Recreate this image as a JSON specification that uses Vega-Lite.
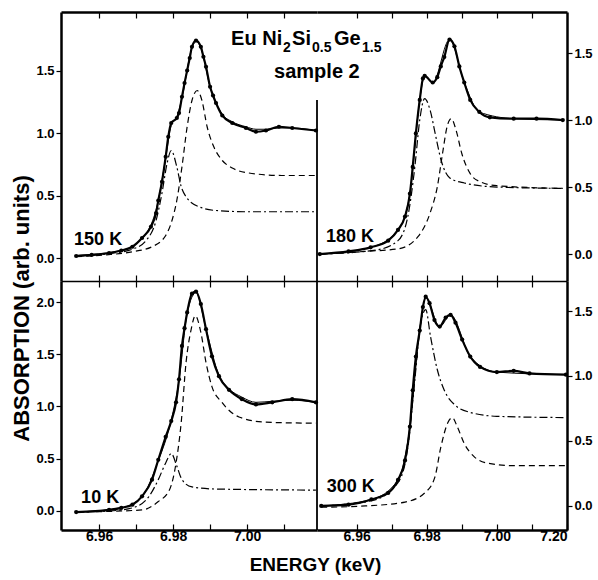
{
"$schema":"https://vega.github.io/schema/vega-lite/v6.json",
"background":"white",
"padding":{"left":10,"top":11,"right":5,"bottom":5},
"spacing":0,
"columns":2,
"bounds":"flush",
"config":{"view":{"stroke":null},"axis":{"labelFont":"Liberation Sans","labelFontWeight":"bold","labelColor":"black","labelFontSize":13,"titleFont":"Liberation Sans","titleFontWeight":"bold","titleColor":"black","domainColor":"black","tickColor":"black","grid":false,"tickWidth":1.2}},
"datasets":{
"c":[
{"p":"TL","s":"d","e":6.9538,"a":0.016},{"p":"TL","s":"d","e":6.958,"a":0.025},{"p":"TL","s":"d","e":6.9627,"a":0.04},{"p":"TL","s":"d","e":6.966,"a":0.06},{"p":"TL","s":"d","e":6.969,"a":0.09},{"p":"TL","s":"d","e":6.9716,"a":0.16},{"p":"TL","s":"d","e":6.974,"a":0.25},{"p":"TL","s":"d","e":6.9754,"a":0.36},{"p":"TL","s":"d","e":6.976,"a":0.46},{"p":"TL","s":"d","e":6.977,"a":0.61},{"p":"TL","s":"d","e":6.978,"a":0.81},{"p":"TL","s":"d","e":6.9787,"a":0.97},{"p":"TL","s":"d","e":6.9795,"a":1.08},{"p":"TL","s":"d","e":6.981,"a":1.12},{"p":"TL","s":"d","e":6.9816,"a":1.16},{"p":"TL","s":"d","e":6.9824,"a":1.29},{"p":"TL","s":"d","e":6.9831,"a":1.4},{"p":"TL","s":"d","e":6.9838,"a":1.5},{"p":"TL","s":"d","e":6.9845,"a":1.6},{"p":"TL","s":"d","e":6.9851,"a":1.69},{"p":"TL","s":"d","e":6.9862,"a":1.74},{"p":"TL","s":"d","e":6.9875,"a":1.69},{"p":"TL","s":"d","e":6.9882,"a":1.61},{"p":"TL","s":"d","e":6.9889,"a":1.53},{"p":"TL","s":"d","e":6.99,"a":1.37},{"p":"TL","s":"d","e":6.9908,"a":1.3},{"p":"TL","s":"d","e":6.9916,"a":1.24},{"p":"TL","s":"d","e":6.9933,"a":1.14},{"p":"TL","s":"d","e":6.996,"a":1.08},{"p":"TL","s":"d","e":6.9997,"a":1.04},{"p":"TL","s":"d","e":7.0024,"a":1.01},{"p":"TL","s":"d","e":7.0051,"a":1.02},{"p":"TL","s":"d","e":7.0086,"a":1.05},{"p":"TL","s":"d","e":7.0122,"a":1.04},{"p":"TL","s":"d","e":7.0186,"a":1.02},
{"p":"TL","s":"f","e":6.9538,"a":0.02},{"p":"TL","s":"f","e":6.966,"a":0.06},{"p":"TL","s":"f","e":6.972,"a":0.17},{"p":"TL","s":"f","e":6.976,"a":0.46},{"p":"TL","s":"f","e":6.978,"a":0.8},{"p":"TL","s":"f","e":6.9795,"a":1.06},{"p":"TL","s":"f","e":6.981,"a":1.13},{"p":"TL","s":"f","e":6.9824,"a":1.28},{"p":"TL","s":"f","e":6.9851,"a":1.68},{"p":"TL","s":"f","e":6.9862,"a":1.73},{"p":"TL","s":"f","e":6.9875,"a":1.68},{"p":"TL","s":"f","e":6.99,"a":1.37},{"p":"TL","s":"f","e":6.9933,"a":1.15},{"p":"TL","s":"f","e":6.996,"a":1.09},{"p":"TL","s":"f","e":6.9997,"a":1.05},{"p":"TL","s":"f","e":7.0024,"a":1.03},{"p":"TL","s":"f","e":7.0051,"a":1.03},{"p":"TL","s":"f","e":7.0086,"a":1.04},{"p":"TL","s":"f","e":7.0122,"a":1.04},{"p":"TL","s":"f","e":7.0186,"a":1.02},
{"p":"TL","s":"dd","e":6.9538,"a":0.015},{"p":"TL","s":"dd","e":6.9627,"a":0.035},{"p":"TL","s":"dd","e":6.969,"a":0.07},{"p":"TL","s":"dd","e":6.9727,"a":0.14},{"p":"TL","s":"dd","e":6.9754,"a":0.3},{"p":"TL","s":"dd","e":6.977,"a":0.52},{"p":"TL","s":"dd","e":6.9784,"a":0.76},{"p":"TL","s":"dd","e":6.9795,"a":0.86},{"p":"TL","s":"dd","e":6.981,"a":0.73},{"p":"TL","s":"dd","e":6.9822,"a":0.57},{"p":"TL","s":"dd","e":6.9835,"a":0.49},{"p":"TL","s":"dd","e":6.987,"a":0.41},{"p":"TL","s":"dd","e":6.9916,"a":0.38},{"p":"TL","s":"dd","e":7.0005,"a":0.37},{"p":"TL","s":"dd","e":7.0186,"a":0.37},
{"p":"TL","s":"ds","e":6.9538,"a":0.01},{"p":"TL","s":"ds","e":6.962,"a":0.025},{"p":"TL","s":"ds","e":6.969,"a":0.05},{"p":"TL","s":"ds","e":6.9743,"a":0.09},{"p":"TL","s":"ds","e":6.978,"a":0.18},{"p":"TL","s":"ds","e":6.9797,"a":0.3},{"p":"TL","s":"ds","e":6.981,"a":0.46},{"p":"TL","s":"ds","e":6.9824,"a":0.73},{"p":"TL","s":"ds","e":6.9838,"a":1.05},{"p":"TL","s":"ds","e":6.9851,"a":1.26},{"p":"TL","s":"ds","e":6.9865,"a":1.34},{"p":"TL","s":"ds","e":6.9878,"a":1.26},{"p":"TL","s":"ds","e":6.9892,"a":1.05},{"p":"TL","s":"ds","e":6.991,"a":0.89},{"p":"TL","s":"ds","e":6.9933,"a":0.78},{"p":"TL","s":"ds","e":6.996,"a":0.72},{"p":"TL","s":"ds","e":7.0005,"a":0.68},{"p":"TL","s":"ds","e":7.0095,"a":0.66},{"p":"TL","s":"ds","e":7.0186,"a":0.66},

{"p":"TR","s":"d","e":6.9495,"a":0.0},{"p":"TR","s":"d","e":6.9577,"a":0.02},{"p":"TR","s":"d","e":6.964,"a":0.05},{"p":"TR","s":"d","e":6.969,"a":0.1},{"p":"TR","s":"d","e":6.9718,"a":0.18},{"p":"TR","s":"d","e":6.9738,"a":0.28},{"p":"TR","s":"d","e":6.9752,"a":0.45},{"p":"TR","s":"d","e":6.976,"a":0.65},{"p":"TR","s":"d","e":6.9769,"a":0.9},{"p":"TR","s":"d","e":6.978,"a":1.15},{"p":"TR","s":"d","e":6.9789,"a":1.31},{"p":"TR","s":"d","e":6.9794,"a":1.33},{"p":"TR","s":"d","e":6.9817,"a":1.28},{"p":"TR","s":"d","e":6.983,"a":1.32},{"p":"TR","s":"d","e":6.984,"a":1.4},{"p":"TR","s":"d","e":6.985,"a":1.47},{"p":"TR","s":"d","e":6.9865,"a":1.6},{"p":"TR","s":"d","e":6.9879,"a":1.55},{"p":"TR","s":"d","e":6.9893,"a":1.4},{"p":"TR","s":"d","e":6.9907,"a":1.28},{"p":"TR","s":"d","e":6.9924,"a":1.15},{"p":"TR","s":"d","e":6.995,"a":1.06},{"p":"TR","s":"d","e":6.998,"a":1.02},{"p":"TR","s":"d","e":7.0048,"a":1.01},{"p":"TR","s":"d","e":7.0113,"a":1.01},{"p":"TR","s":"d","e":7.0188,"a":1.0},
{"p":"TR","s":"f","e":6.9495,"a":0.0},{"p":"TR","s":"f","e":6.964,"a":0.05},{"p":"TR","s":"f","e":6.9718,"a":0.18},{"p":"TR","s":"f","e":6.9752,"a":0.45},{"p":"TR","s":"f","e":6.978,"a":1.15},{"p":"TR","s":"f","e":6.9794,"a":1.33},{"p":"TR","s":"f","e":6.9817,"a":1.28},{"p":"TR","s":"f","e":6.9865,"a":1.6},{"p":"TR","s":"f","e":6.9907,"a":1.28},{"p":"TR","s":"f","e":6.995,"a":1.06},{"p":"TR","s":"f","e":7.0048,"a":1.01},{"p":"TR","s":"f","e":7.0188,"a":1.0},
{"p":"TR","s":"dd","e":6.9495,"a":0.0},{"p":"TR","s":"dd","e":6.9655,"a":0.03},{"p":"TR","s":"dd","e":6.9718,"a":0.1},{"p":"TR","s":"dd","e":6.9746,"a":0.28},{"p":"TR","s":"dd","e":6.9766,"a":0.65},{"p":"TR","s":"dd","e":6.978,"a":1.0},{"p":"TR","s":"dd","e":6.9794,"a":1.16},{"p":"TR","s":"dd","e":6.981,"a":1.07},{"p":"TR","s":"dd","e":6.9824,"a":0.9},{"p":"TR","s":"dd","e":6.9841,"a":0.7},{"p":"TR","s":"dd","e":6.9865,"a":0.57},{"p":"TR","s":"dd","e":6.9907,"a":0.53},{"p":"TR","s":"dd","e":7.0,"a":0.5},{"p":"TR","s":"dd","e":7.0188,"a":0.49},
{"p":"TR","s":"ds","e":6.9495,"a":0.0},{"p":"TR","s":"ds","e":6.9625,"a":0.02},{"p":"TR","s":"ds","e":6.972,"a":0.04},{"p":"TR","s":"ds","e":6.9775,"a":0.13},{"p":"TR","s":"ds","e":6.981,"a":0.31},{"p":"TR","s":"ds","e":6.983,"a":0.5},{"p":"TR","s":"ds","e":6.9845,"a":0.75},{"p":"TR","s":"ds","e":6.9858,"a":0.95},{"p":"TR","s":"ds","e":6.987,"a":1.01},{"p":"TR","s":"ds","e":6.9883,"a":0.93},{"p":"TR","s":"ds","e":6.99,"a":0.75},{"p":"TR","s":"ds","e":6.9924,"a":0.6},{"p":"TR","s":"ds","e":6.9952,"a":0.54},{"p":"TR","s":"ds","e":7.0,"a":0.51},{"p":"TR","s":"ds","e":7.0188,"a":0.49},

{"p":"BL","s":"d","e":6.9538,"a":-0.01},{"p":"BL","s":"d","e":6.9627,"a":0.01},{"p":"BL","s":"d","e":6.966,"a":0.03},{"p":"BL","s":"d","e":6.969,"a":0.06},{"p":"BL","s":"d","e":6.9716,"a":0.14},{"p":"BL","s":"d","e":6.9743,"a":0.3},{"p":"BL","s":"d","e":6.976,"a":0.49},{"p":"BL","s":"d","e":6.978,"a":0.71},{"p":"BL","s":"d","e":6.9795,"a":0.86},{"p":"BL","s":"d","e":6.9808,"a":1.04},{"p":"BL","s":"d","e":6.9816,"a":1.26},{"p":"BL","s":"d","e":6.9824,"a":1.58},{"p":"BL","s":"d","e":6.9831,"a":1.75},{"p":"BL","s":"d","e":6.9838,"a":1.9},{"p":"BL","s":"d","e":6.9851,"a":2.08},{"p":"BL","s":"d","e":6.9862,"a":2.1},{"p":"BL","s":"d","e":6.9875,"a":1.98},{"p":"BL","s":"d","e":6.9889,"a":1.74},{"p":"BL","s":"d","e":6.9905,"a":1.48},{"p":"BL","s":"d","e":6.9924,"a":1.29},{"p":"BL","s":"d","e":6.9951,"a":1.16},{"p":"BL","s":"d","e":6.9986,"a":1.07},{"p":"BL","s":"d","e":7.0024,"a":1.02},{"p":"BL","s":"d","e":7.0068,"a":1.04},{"p":"BL","s":"d","e":7.0122,"a":1.07},{"p":"BL","s":"d","e":7.0186,"a":1.04},
{"p":"BL","s":"f","e":6.9538,"a":-0.01},{"p":"BL","s":"f","e":6.966,"a":0.03},{"p":"BL","s":"f","e":6.9716,"a":0.14},{"p":"BL","s":"f","e":6.976,"a":0.48},{"p":"BL","s":"f","e":6.9795,"a":0.87},{"p":"BL","s":"f","e":6.9816,"a":1.25},{"p":"BL","s":"f","e":6.9838,"a":1.89},{"p":"BL","s":"f","e":6.9862,"a":2.09},{"p":"BL","s":"f","e":6.9889,"a":1.74},{"p":"BL","s":"f","e":6.9924,"a":1.3},{"p":"BL","s":"f","e":6.9951,"a":1.17},{"p":"BL","s":"f","e":6.9986,"a":1.09},{"p":"BL","s":"f","e":7.0024,"a":1.04},{"p":"BL","s":"f","e":7.0068,"a":1.05},{"p":"BL","s":"f","e":7.0122,"a":1.06},{"p":"BL","s":"f","e":7.0186,"a":1.04},
{"p":"BL","s":"dd","e":6.9538,"a":-0.01},{"p":"BL","s":"dd","e":6.9627,"a":0.0},{"p":"BL","s":"dd","e":6.969,"a":0.03},{"p":"BL","s":"dd","e":6.9735,"a":0.14},{"p":"BL","s":"dd","e":6.976,"a":0.3},{"p":"BL","s":"dd","e":6.978,"a":0.46},{"p":"BL","s":"dd","e":6.9795,"a":0.55},{"p":"BL","s":"dd","e":6.981,"a":0.43},{"p":"BL","s":"dd","e":6.9824,"a":0.3},{"p":"BL","s":"dd","e":6.9851,"a":0.23},{"p":"BL","s":"dd","e":6.9916,"a":0.21},{"p":"BL","s":"dd","e":7.0186,"a":0.2},
{"p":"BL","s":"ds","e":6.9538,"a":-0.01},{"p":"BL","s":"ds","e":6.9716,"a":0.01},{"p":"BL","s":"ds","e":6.976,"a":0.09},{"p":"BL","s":"ds","e":6.979,"a":0.2},{"p":"BL","s":"ds","e":6.9808,"a":0.46},{"p":"BL","s":"ds","e":6.9822,"a":0.85},{"p":"BL","s":"ds","e":6.9835,"a":1.42},{"p":"BL","s":"ds","e":6.9849,"a":1.74},{"p":"BL","s":"ds","e":6.986,"a":1.87},{"p":"BL","s":"ds","e":6.9875,"a":1.71},{"p":"BL","s":"ds","e":6.9889,"a":1.42},{"p":"BL","s":"ds","e":6.9905,"a":1.19},{"p":"BL","s":"ds","e":6.9932,"a":1.04},{"p":"BL","s":"ds","e":6.9978,"a":0.9},{"p":"BL","s":"ds","e":7.005,"a":0.85},{"p":"BL","s":"ds","e":7.0186,"a":0.84},

{"p":"BR","s":"d","e":6.9499,"a":0.0},{"p":"BR","s":"d","e":6.9577,"a":0.01},{"p":"BR","s":"d","e":6.9642,"a":0.05},{"p":"BR","s":"d","e":6.969,"a":0.1},{"p":"BR","s":"d","e":6.9718,"a":0.2},{"p":"BR","s":"d","e":6.9738,"a":0.35},{"p":"BR","s":"d","e":6.9752,"a":0.61},{"p":"BR","s":"d","e":6.976,"a":0.89},{"p":"BR","s":"d","e":6.9769,"a":1.15},{"p":"BR","s":"d","e":6.978,"a":1.35},{"p":"BR","s":"d","e":6.9789,"a":1.53},{"p":"BR","s":"d","e":6.9797,"a":1.61},{"p":"BR","s":"d","e":6.9808,"a":1.56},{"p":"BR","s":"d","e":6.9822,"a":1.43},{"p":"BR","s":"d","e":6.9837,"a":1.38},{"p":"BR","s":"d","e":6.9854,"a":1.45},{"p":"BR","s":"d","e":6.9868,"a":1.47},{"p":"BR","s":"d","e":6.9882,"a":1.41},{"p":"BR","s":"d","e":6.9901,"a":1.28},{"p":"BR","s":"d","e":6.9924,"a":1.15},{"p":"BR","s":"d","e":6.9952,"a":1.07},{"p":"BR","s":"d","e":7.0,"a":1.03},{"p":"BR","s":"d","e":7.0048,"a":1.04},{"p":"BR","s":"d","e":7.0093,"a":1.02},{"p":"BR","s":"d","e":7.0197,"a":1.01},
{"p":"BR","s":"f","e":6.9499,"a":0.0},{"p":"BR","s":"f","e":6.9642,"a":0.05},{"p":"BR","s":"f","e":6.9718,"a":0.2},{"p":"BR","s":"f","e":6.9752,"a":0.61},{"p":"BR","s":"f","e":6.978,"a":1.35},{"p":"BR","s":"f","e":6.9797,"a":1.6},{"p":"BR","s":"f","e":6.9837,"a":1.38},{"p":"BR","s":"f","e":6.9868,"a":1.47},{"p":"BR","s":"f","e":6.9924,"a":1.15},{"p":"BR","s":"f","e":7.0,"a":1.03},{"p":"BR","s":"f","e":7.0197,"a":1.01},
{"p":"BR","s":"dd","e":6.9499,"a":0.0},{"p":"BR","s":"dd","e":6.9642,"a":0.04},{"p":"BR","s":"dd","e":6.9718,"a":0.18},{"p":"BR","s":"dd","e":6.9746,"a":0.45},{"p":"BR","s":"dd","e":6.9766,"a":0.97},{"p":"BR","s":"dd","e":6.9783,"a":1.41},{"p":"BR","s":"dd","e":6.9797,"a":1.51},{"p":"BR","s":"dd","e":6.9811,"a":1.3},{"p":"BR","s":"dd","e":6.983,"a":1.05},{"p":"BR","s":"dd","e":6.985,"a":0.89},{"p":"BR","s":"dd","e":6.9879,"a":0.78},{"p":"BR","s":"dd","e":6.9924,"a":0.72},{"p":"BR","s":"dd","e":7.0,"a":0.69},{"p":"BR","s":"dd","e":7.0197,"a":0.68},
{"p":"BR","s":"ds","e":6.9499,"a":-0.01},{"p":"BR","s":"ds","e":6.9625,"a":0.0},{"p":"BR","s":"ds","e":6.9738,"a":0.03},{"p":"BR","s":"ds","e":6.9794,"a":0.1},{"p":"BR","s":"ds","e":6.9823,"a":0.22},{"p":"BR","s":"ds","e":6.984,"a":0.45},{"p":"BR","s":"ds","e":6.986,"a":0.64},{"p":"BR","s":"ds","e":6.9873,"a":0.68},{"p":"BR","s":"ds","e":6.9887,"a":0.61},{"p":"BR","s":"ds","e":6.9907,"a":0.48},{"p":"BR","s":"ds","e":6.9935,"a":0.38},{"p":"BR","s":"ds","e":6.9972,"a":0.33},{"p":"BR","s":"ds","e":7.0048,"a":0.31},{"p":"BR","s":"ds","e":7.0197,"a":0.31}
],
"t":[
{"p":"TL","k":"m","t":"Eu Ni","e":6.99568,"a":1.704},
{"p":"TL","k":"s","t":"2","e":7.00973,"a":1.648},
{"p":"TL","k":"m","t":"Si","e":7.01216,"a":1.704},
{"p":"TL","k":"s","t":"0.5","e":7.01757,"a":1.648},
{"p":"TL","k":"m","t":"Ge","e":7.02351,"a":1.704},
{"p":"TL","k":"s","t":"1.5","e":7.03108,"a":1.648},
{"p":"TL","k":"m","t":"sample 2","e":7.0073,"a":1.44},
{"p":"TL","k":"l","t":"150 K","e":6.95324,"a":0.104},
{"p":"TR","k":"l","t":"180 K","e":6.95127,"a":0.09},
{"p":"BL","k":"l","t":"10 K","e":6.95514,"a":0.077},
{"p":"BR","k":"l","t":"300 K","e":6.9515,"a":0.108}
],
"r":[
{"p":"TR","e":6.9487,"a":-0.201,"a2":1.15},
{"p":"BR","e":6.9487,"a":-0.185,"a2":1.731}
]
},
"concat":[
{
"width":256,"height":269,
"layer":[
{"data":{"name":"c"},"transform":[{"filter":"datum.p=='TL' && datum.s=='ds'"}],"mark":{"type":"line","color":"black","strokeWidth":1.2,"strokeDash":[6,4],"interpolate":"monotone"},
"encoding":{"x":{"field":"e","type":"quantitative","scale":{"domain":[6.9497,7.0189],"nice":false,"zero":false},"axis":{"orient":"top","values":[6.96,6.97,6.98,6.99,7.0,7.01],"tickSize":-6,"labels":false,"domainWidth":2.5,"title":null}},
"y":{"field":"a","type":"quantitative","scale":{"domain":[-0.184,1.968],"nice":false,"zero":false},"axis":{"orient":"left","values":[0,0.5,1,1.5],"format":".1f","tickSize":5,"labelPadding":2,"domainWidth":2.5,"title":null}}}},
{"data":{"name":"c"},"transform":[{"filter":"datum.p=='TL' && datum.s=='dd'"}],"mark":{"type":"line","color":"black","strokeWidth":1.2,"strokeDash":[8,3,2,3],"interpolate":"monotone"},
"encoding":{"x":{"field":"e","type":"quantitative","axis":{"orient":"bottom","values":[6.96,6.97,6.98,6.99,7.0,7.01],"tickSize":-6,"labels":false,"domainWidth":1.5,"title":null}},"y":{"field":"a","type":"quantitative","axis":null}}},
{"data":{"name":"c"},"transform":[{"filter":"datum.p=='TL' && datum.s=='f'"}],"mark":{"type":"line","color":"black","strokeWidth":1,"interpolate":"monotone"},
"encoding":{"x":{"field":"e","type":"quantitative","axis":null},"y":{"field":"a","type":"quantitative","axis":null}}},
{"data":{"name":"c"},"transform":[{"filter":"datum.p=='TL' && datum.s=='d'"}],"mark":{"type":"line","color":"black","strokeWidth":2.2,"interpolate":"monotone"},
"encoding":{"x":{"field":"e","type":"quantitative","axis":null},"y":{"field":"a","type":"quantitative","axis":null}}},
{"data":{"name":"c"},"transform":[{"filter":"datum.p=='TL' && datum.s=='d'"}],"mark":{"type":"point","filled":true,"color":"black","size":18,"opacity":1},
"encoding":{"x":{"field":"e","type":"quantitative","axis":null},"y":{"field":"a","type":"quantitative","axis":null}}},
{"data":{"name":"t"},"transform":[{"filter":"datum.p=='TL' && datum.k=='m'"}],"mark":{"type":"text","align":"left","baseline":"alphabetic","font":"Liberation Sans","fontWeight":"bold","fontSize":20,"color":"black"},
"encoding":{"x":{"field":"e","type":"quantitative","axis":null},"y":{"field":"a","type":"quantitative","axis":null},"text":{"field":"t"}}},
{"data":{"name":"t"},"transform":[{"filter":"datum.p=='TL' && datum.k=='s'"}],"mark":{"type":"text","align":"left","baseline":"alphabetic","font":"Liberation Sans","fontWeight":"bold","fontSize":14,"color":"black"},
"encoding":{"x":{"field":"e","type":"quantitative","axis":null},"y":{"field":"a","type":"quantitative","axis":null},"text":{"field":"t"}}},
{"data":{"name":"t"},"transform":[{"filter":"datum.p=='TL' && datum.k=='l'"}],"mark":{"type":"text","align":"left","baseline":"alphabetic","font":"Liberation Sans","fontWeight":"bold","fontSize":18,"color":"black"},
"encoding":{"x":{"field":"e","type":"quantitative","axis":null},"y":{"field":"a","type":"quantitative","axis":null},"text":{"field":"t"}}}
],
"resolve":{"axis":{"x":"independent","y":"independent"}}
},
{
"width":250,"height":269,
"layer":[
{"data":{"name":"c"},"transform":[{"filter":"datum.p=='TR' && datum.s=='ds'"}],"mark":{"type":"line","color":"black","strokeWidth":1.2,"strokeDash":[6,4],"interpolate":"monotone"},
"encoding":{"x":{"field":"e","type":"quantitative","scale":{"domain":[6.9487,7.02],"nice":false,"zero":false},"axis":{"orient":"top","values":[6.96,6.97,6.98,6.99,7.0,7.01],"tickSize":-6,"labels":false,"domainWidth":2.5,"title":null}},
"y":{"field":"a","type":"quantitative","scale":{"domain":[-0.201,1.806],"nice":false,"zero":false},"axis":{"orient":"right","values":[0,0.5,1,1.5],"format":".1f","tickSize":5,"labelPadding":2,"domainWidth":2.5,"title":null}}}},
{"data":{"name":"c"},"transform":[{"filter":"datum.p=='TR' && datum.s=='dd'"}],"mark":{"type":"line","color":"black","strokeWidth":1.2,"strokeDash":[8,3,2,3],"interpolate":"monotone"},
"encoding":{"x":{"field":"e","type":"quantitative","axis":{"orient":"bottom","values":[6.96,6.97,6.98,6.99,7.0,7.01],"tickSize":-6,"labels":false,"domainWidth":1.5,"title":null}},"y":{"field":"a","type":"quantitative","axis":null}}},
{"data":{"name":"c"},"transform":[{"filter":"datum.p=='TR' && datum.s=='f'"}],"mark":{"type":"line","color":"black","strokeWidth":1,"interpolate":"monotone"},
"encoding":{"x":{"field":"e","type":"quantitative","axis":null},"y":{"field":"a","type":"quantitative","axis":null}}},
{"data":{"name":"c"},"transform":[{"filter":"datum.p=='TR' && datum.s=='d'"}],"mark":{"type":"line","color":"black","strokeWidth":2.2,"interpolate":"monotone"},
"encoding":{"x":{"field":"e","type":"quantitative","axis":null},"y":{"field":"a","type":"quantitative","axis":null}}},
{"data":{"name":"c"},"transform":[{"filter":"datum.p=='TR' && datum.s=='d'"}],"mark":{"type":"point","filled":true,"color":"black","size":18,"opacity":1},
"encoding":{"x":{"field":"e","type":"quantitative","axis":null},"y":{"field":"a","type":"quantitative","axis":null}}},
{"data":{"name":"r"},"transform":[{"filter":"datum.p=='TR'"}],"mark":{"type":"rule","color":"black","strokeWidth":1.8},
"encoding":{"x":{"field":"e","type":"quantitative","axis":null},"y":{"field":"a","type":"quantitative","axis":null},"y2":{"field":"a2"}}},
{"data":{"name":"t"},"transform":[{"filter":"datum.p=='TR' && datum.k=='l'"}],"mark":{"type":"text","align":"left","baseline":"alphabetic","font":"Liberation Sans","fontWeight":"bold","fontSize":18,"color":"black"},
"encoding":{"x":{"field":"e","type":"quantitative","axis":null},"y":{"field":"a","type":"quantitative","axis":null},"text":{"field":"t"}}}
],
"resolve":{"axis":{"x":"independent","y":"independent"}}
},
{
"width":256,"height":249,
"layer":[
{"data":{"name":"c"},"transform":[{"filter":"datum.p=='BL' && datum.s=='ds'"}],"mark":{"type":"line","color":"black","strokeWidth":1.2,"strokeDash":[6,4],"interpolate":"monotone"},
"encoding":{"x":{"field":"e","type":"quantitative","scale":{"domain":[6.9497,7.0189],"nice":false,"zero":false},"axis":{"orient":"top","values":[6.96,6.97,6.98,6.99,7.0,7.01],"tickSize":-6,"labels":false,"domain":false,"title":null}},
"y":{"field":"a","type":"quantitative","scale":{"domain":[-0.182,2.201],"nice":false,"zero":false},"axis":{"orient":"left","values":[0,0.5,1,1.5,2],"format":".1f","tickSize":5,"labelPadding":2,"domainWidth":2.5,"title":"ABSORPTION (arb. units)","titleFontSize":22,"titleY":27,"titlePadding":2}}}},
{"data":{"name":"c"},"transform":[{"filter":"datum.p=='BL' && datum.s=='dd'"}],"mark":{"type":"line","color":"black","strokeWidth":1.2,"strokeDash":[8,3,2,3],"interpolate":"monotone"},
"encoding":{"x":{"field":"e","type":"quantitative","axis":{"orient":"bottom","values":[6.96,6.97,6.98,6.99,7.0,7.01],"tickSize":-6,"labelPadding":5,"labelFontSize":14,"labelExpr":"round(datum.value*100) % 2 == 0 ? format(datum.value,'.2f') : ''","domainWidth":2.5,"title":"ENERGY (keV)","titleFontSize":19,"titleX":254,"titlePadding":12}},"y":{"field":"a","type":"quantitative","axis":null}}},
{"data":{"name":"c"},"transform":[{"filter":"datum.p=='BL' && datum.s=='f'"}],"mark":{"type":"line","color":"black","strokeWidth":1,"interpolate":"monotone"},
"encoding":{"x":{"field":"e","type":"quantitative","axis":null},"y":{"field":"a","type":"quantitative","axis":null}}},
{"data":{"name":"c"},"transform":[{"filter":"datum.p=='BL' && datum.s=='d'"}],"mark":{"type":"line","color":"black","strokeWidth":2.2,"interpolate":"monotone"},
"encoding":{"x":{"field":"e","type":"quantitative","axis":null},"y":{"field":"a","type":"quantitative","axis":null}}},
{"data":{"name":"c"},"transform":[{"filter":"datum.p=='BL' && datum.s=='d'"}],"mark":{"type":"point","filled":true,"color":"black","size":18,"opacity":1},
"encoding":{"x":{"field":"e","type":"quantitative","axis":null},"y":{"field":"a","type":"quantitative","axis":null}}},
{"data":{"name":"t"},"transform":[{"filter":"datum.p=='BL' && datum.k=='l'"}],"mark":{"type":"text","align":"left","baseline":"alphabetic","font":"Liberation Sans","fontWeight":"bold","fontSize":18,"color":"black"},
"encoding":{"x":{"field":"e","type":"quantitative","axis":null},"y":{"field":"a","type":"quantitative","axis":null},"text":{"field":"t"}}}
],
"resolve":{"axis":{"x":"independent","y":"independent"}}
},
{
"width":250,"height":249,
"layer":[
{"data":{"name":"c"},"transform":[{"filter":"datum.p=='BR' && datum.s=='ds'"}],"mark":{"type":"line","color":"black","strokeWidth":1.2,"strokeDash":[6,4],"interpolate":"monotone"},
"encoding":{"x":{"field":"e","type":"quantitative","scale":{"domain":[6.9487,7.02],"nice":false,"zero":false},"axis":{"orient":"top","values":[6.96,6.97,6.98,6.99,7.0,7.01],"tickSize":-6,"labels":false,"domain":false,"title":null}},
"y":{"field":"a","type":"quantitative","scale":{"domain":[-0.185,1.731],"nice":false,"zero":false},"axis":{"orient":"right","values":[0,0.5,1,1.5],"format":".1f","tickSize":5,"labelPadding":2,"domainWidth":2.5,"title":null}}}},
{"data":{"name":"c"},"transform":[{"filter":"datum.p=='BR' && datum.s=='dd'"}],"mark":{"type":"line","color":"black","strokeWidth":1.2,"strokeDash":[8,3,2,3],"interpolate":"monotone"},
"encoding":{"x":{"field":"e","type":"quantitative","axis":{"orient":"bottom","values":[6.96,6.97,6.98,6.99,7.0,7.01,7.02],"tickSize":-6,"labelPadding":5,"labelFontSize":14,"labelExpr":"round(datum.value*100) == 702 ? '7.20' : (round(datum.value*100) % 2 == 0 ? format(datum.value,'.2f') : '')","domainWidth":2.5,"title":null}},"y":{"field":"a","type":"quantitative","axis":null}}},
{"data":{"name":"c"},"transform":[{"filter":"datum.p=='BR' && datum.s=='f'"}],"mark":{"type":"line","color":"black","strokeWidth":1,"interpolate":"monotone"},
"encoding":{"x":{"field":"e","type":"quantitative","axis":null},"y":{"field":"a","type":"quantitative","axis":null}}},
{"data":{"name":"c"},"transform":[{"filter":"datum.p=='BR' && datum.s=='d'"}],"mark":{"type":"line","color":"black","strokeWidth":2.2,"interpolate":"monotone"},
"encoding":{"x":{"field":"e","type":"quantitative","axis":null},"y":{"field":"a","type":"quantitative","axis":null}}},
{"data":{"name":"c"},"transform":[{"filter":"datum.p=='BR' && datum.s=='d'"}],"mark":{"type":"point","filled":true,"color":"black","size":18,"opacity":1},
"encoding":{"x":{"field":"e","type":"quantitative","axis":null},"y":{"field":"a","type":"quantitative","axis":null}}},
{"data":{"name":"r"},"transform":[{"filter":"datum.p=='BR'"}],"mark":{"type":"rule","color":"black","strokeWidth":1.8},
"encoding":{"x":{"field":"e","type":"quantitative","axis":null},"y":{"field":"a","type":"quantitative","axis":null},"y2":{"field":"a2"}}},
{"data":{"name":"t"},"transform":[{"filter":"datum.p=='BR' && datum.k=='l'"}],"mark":{"type":"text","align":"left","baseline":"alphabetic","font":"Liberation Sans","fontWeight":"bold","fontSize":18,"color":"black"},
"encoding":{"x":{"field":"e","type":"quantitative","axis":null},"y":{"field":"a","type":"quantitative","axis":null},"text":{"field":"t"}}}
],
"resolve":{"axis":{"x":"independent","y":"independent"}}
}
]
}
